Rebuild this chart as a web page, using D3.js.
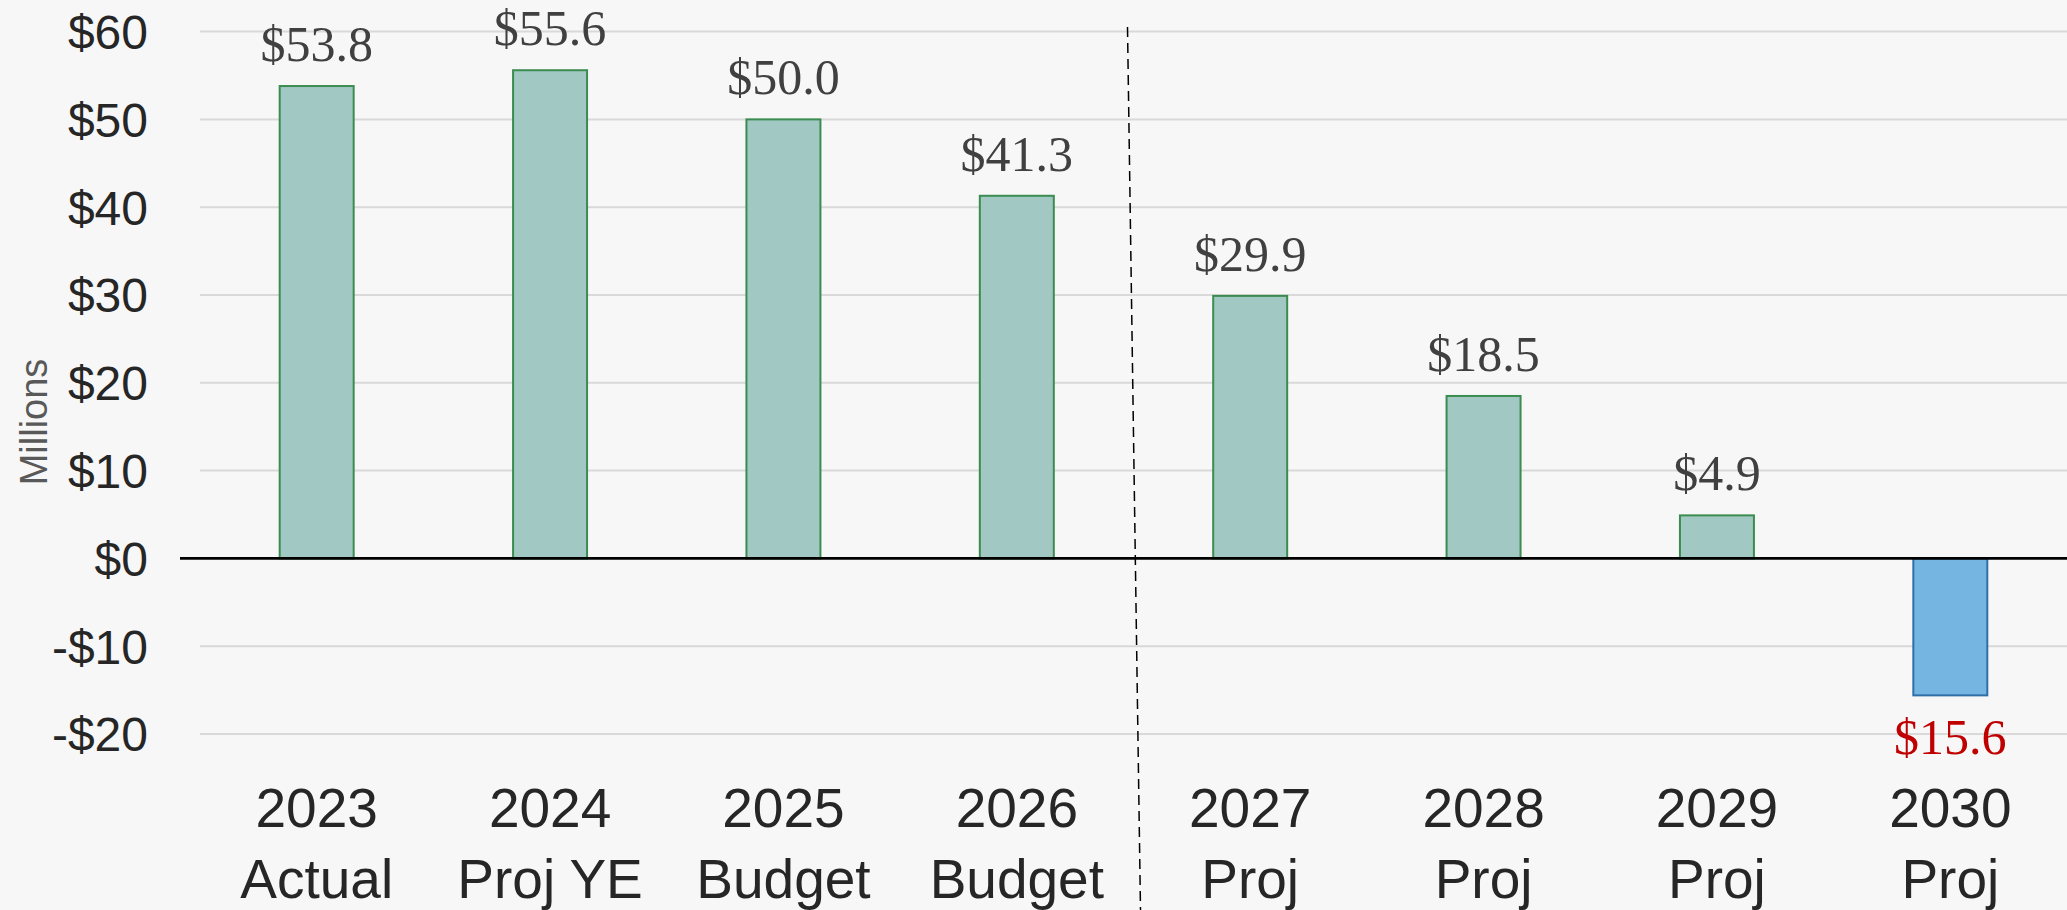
<!DOCTYPE html>
<html>
<head>
<meta charset="utf-8">
<script src="https://cdn.jsdelivr.net/npm/d3@7"></script>
<style>
  html, body { margin: 0; padding: 0; background: #f7f7f7; }
  svg { display: block; }
</style>
</head>
<body>
<svg id="chart"></svg>
<script>
// 数据
const years = ["2023", "2024", "2025", "2026", "2027", "2028", "2029", "2030"];
const subLabels = ["Actual", "Proj YE", "Budget", "Budget", "Proj", "Proj", "Proj", "Proj"];
const values = [53.8, 55.6, 50.0, 41.3, 29.9, 18.5, 4.9, -15.6];
const yTicks = [-20, -10, 0, 10, 20, 30, 40, 50, 60];

const width = 2067;
const height = 910;

const svg = d3.select('#chart')
    .attr('width', width)
    .attr('height', height);

svg.append('rect')
    .attr('width', width)
    .attr('height', height)
    .attr('fill', '#f7f7f7');

// 比例尺
const x = d3.scaleBand()
    .domain(years)
    .range([200, 2067])
    .padding(0);

const y = d3.scaleLinear()
    .domain([-20, 60])
    .range([734, 31.6]);

const barW = x.bandwidth() * 0.317;

// 网格线和Y轴
const yAxis = d3.axisLeft(y)
    .tickValues(yTicks)
    .tickSize(0)
    .tickPadding(0)
    .tickFormat(d => (d < 0 ? '-$' : '$') + Math.abs(d));

const yg = svg.append('g')
    .attr('transform', 'translate(148,0)')
    .call(yAxis);
yg.select('.domain').remove();
yg.selectAll('text')
    .attr('font-family', '"Liberation Sans", Arial, sans-serif')
    .attr('font-size', 48)
    .attr('fill', '#262626')
    .attr('dy', '0.35em');

svg.append('g')
    .selectAll('line')
    .data(yTicks.filter(d => d !== 0))
    .join('line')
    .attr('x1', 200)
    .attr('x2', width)
    .attr('y1', d => y(d))
    .attr('y2', d => y(d))
    .attr('stroke', '#d9d9d9')
    .attr('stroke-width', 2);

// Y轴标题
svg.append('text')
    .attr('transform', 'translate(47,422) rotate(-90)')
    .attr('text-anchor', 'middle')
    .attr('font-family', '"Liberation Sans", Arial, sans-serif')
    .attr('font-size', 38)
    .attr('fill', '#595959')
    .text('Millions');

// 柱子
svg.append('g')
    .selectAll('rect')
    .data(values)
    .join('rect')
    .attr('x', (d, i) => x(years[i]) + (x.bandwidth() - barW) / 2)
    .attr('y', d => y(Math.max(0, d)))
    .attr('width', barW)
    .attr('height', d => Math.abs(y(d) - y(0)))
    .attr('fill', d => d < 0 ? '#75b5e1' : '#a2c8c4')
    .attr('stroke', d => d < 0 ? '#2f6fa8' : '#3b8c50')
    .attr('stroke-width', 2);

// 零线
svg.append('line')
    .attr('x1', 180)
    .attr('x2', width)
    .attr('y1', y(0))
    .attr('y2', y(0))
    .attr('stroke', '#000')
    .attr('stroke-width', 2.6);

// 分隔虚线
const divX = x(years[4]);
svg.append('line')
    .attr('x1', divX - 6)
    .attr('y1', 27)
    .attr('x2', divX + 7)
    .attr('y2', height)
    .attr('stroke', '#000')
    .attr('stroke-width', 1.5)
    .attr('stroke-dasharray', '10,6');

// 数据标签
svg.append('g')
    .selectAll('text')
    .data(values)
    .join('text')
    .attr('x', (d, i) => x(years[i]) + x.bandwidth() / 2)
    .attr('y', d => d < 0 ? y(d) + 59 : y(d) - 25)
    .attr('text-anchor', 'middle')
    .attr('font-family', '"Liberation Serif", "Times New Roman", serif')
    .attr('font-size', 50)
    .attr('fill', d => d < 0 ? '#c00000' : '#404040')
    .text(d => '$' + Math.abs(d).toFixed(1));

// X轴标签
const xg = svg.append('g')
    .selectAll('text')
    .data(years)
    .join('text')
    .attr('x', d => x(d) + x.bandwidth() / 2)
    .attr('text-anchor', 'middle')
    .attr('font-family', '"Liberation Sans", Arial, sans-serif')
    .attr('font-size', 55)
    .attr('fill', '#262626');

xg.append('tspan')
    .attr('x', d => x(d) + x.bandwidth() / 2)
    .attr('y', 827)
    .text(d => d);

xg.append('tspan')
    .attr('x', d => x(d) + x.bandwidth() / 2)
    .attr('y', 898)
    .text((d, i) => subLabels[i]);
</script>
</body>
</html>
